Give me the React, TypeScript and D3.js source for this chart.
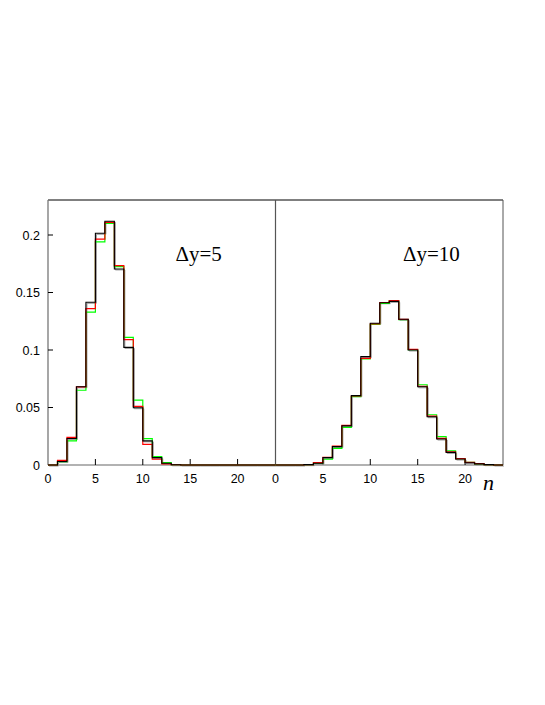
import React from "react";
import * as d3 from "d3";

// bin index n = 0..23, value = fraction of events in [n, n+1)
const leftBlack = [0, 0.003, 0.023, 0.068, 0.1415, 0.2015, 0.212, 0.1705, 0.1023, 0.0498, 0.021, 0.0064, 0.0015, 0.0002, 0, 0, 0, 0, 0, 0, 0, 0, 0, 0];
const leftRed = [0, 0.004, 0.024, 0.068, 0.136, 0.1965, 0.211, 0.1733, 0.109, 0.051, 0.018, 0.005, 0.001, 0.0002, 0, 0, 0, 0, 0, 0, 0, 0, 0, 0];
const leftGreen = [0, 0.003, 0.021, 0.065, 0.133, 0.194, 0.21, 0.1725, 0.111, 0.0565, 0.023, 0.0072, 0.002, 0.0004, 0, 0, 0, 0, 0, 0, 0, 0, 0, 0];

const rightBlack = [0, 0, 0, 0.0003, 0.0015, 0.0064, 0.016, 0.034, 0.0603, 0.0942, 0.1232, 0.1411, 0.1423, 0.1267, 0.1, 0.068, 0.042, 0.0226, 0.011, 0.0052, 0.002, 0.001, 0.0003, 0];
const rightRed = [0, 0, 0, 0.0003, 0.002, 0.0066, 0.0165, 0.0345, 0.06, 0.0928, 0.1228, 0.1413, 0.1429, 0.1267, 0.1005, 0.0685, 0.0425, 0.0232, 0.0115, 0.0055, 0.0022, 0.0012, 0.0003, 0];
const rightGreen = [0, 0, 0, 0.0002, 0.0017, 0.005, 0.0145, 0.0328, 0.0594, 0.0922, 0.1223, 0.1405, 0.1425, 0.1265, 0.1002, 0.0698, 0.0437, 0.0246, 0.0124, 0.0056, 0.0024, 0.001, 0.0004, 0];

const yTicks = [0, 0.05, 0.1, 0.15, 0.2];
const xTicks = [0, 5, 10, 15, 20];
const panelLabels = ["\u0394y=5", "\u0394y=10"];

const top = 200;
const bottom = 465;
const panelX = [48, 275.5];
const panelW = 227.5;

const yScale = d3.scaleLinear().domain([0, 0.2]).range([bottom, bottom - 230]);

const Panel = ({ x0, series, label, showY }) => {
  const xScale = d3.scaleLinear().domain([0, 24]).range([x0, x0 + panelW]);
  const line = d3
    .line<number>()
    .x((d, i) => xScale(i))
    .y((d) => yScale(d))
    .curve(d3.curveStepAfter);
  // repeat last value so the final bin gets its right edge
  const path = (vals) => line([...vals, vals[vals.length - 1]]);

  return (
    <g>
      {xTicks.map((t) => (
        <g key={t}>
          {t > 0 && (
            <line x1={xScale(t)} x2={xScale(t)} y1={bottom} y2={bottom - 6} stroke="#000" />
          )}
          <text
            x={xScale(t)}
            y={bottom + 18}
            textAnchor="middle"
            fontFamily="Liberation Sans, Arial, sans-serif"
            fontSize={12.5}
          >
            {t}
          </text>
        </g>
      ))}
      {showY &&
        yTicks.map((t) => (
          <g key={t}>
            {t > 0 && (
              <line x1={x0} x2={x0 + 5} y1={yScale(t)} y2={yScale(t)} stroke="#000" />
            )}
            <text
              x={x0 - 8}
              y={yScale(t) + 4.5}
              textAnchor="end"
              fontFamily="Liberation Sans, Arial, sans-serif"
              fontSize={12.5}
            >
              {t}
            </text>
          </g>
        ))}
      <path d={path(series[0])} fill="none" stroke="#999" strokeWidth={1} transform="translate(1,1)" />
      <path d={path(series[1])} fill="none" stroke="#00ff00" strokeWidth={1.2} />
      <path d={path(series[2])} fill="none" stroke="#ff0000" strokeWidth={1.2} />
      <path d={path(series[0])} fill="none" stroke="#000" strokeWidth={1.1} />
      <text
        x={x0 + panelW * 0.56}
        y={261}
        fontFamily="Liberation Serif, Times New Roman, serif"
        fontSize={21}
      >
        {label}
      </text>
    </g>
  );
};

export default function App() {
  return (
    <svg width={545} height={705} style={{ position: "absolute", left: 0, top: 0 }}>
      <rect width={545} height={705} fill="#fff" />
      {/* frame */}
      <line x1={panelX[0]} x2={panelX[1] + panelW} y1={top} y2={top} stroke="#000" />
      <line x1={panelX[0]} x2={panelX[0]} y1={top} y2={bottom} stroke="#777" strokeWidth={1.3} />
      <line x1={panelX[1]} x2={panelX[1]} y1={top} y2={bottom} stroke="#555" strokeWidth={1.2} />
      <line x1={panelX[1] + panelW} x2={panelX[1] + panelW} y1={top} y2={bottom} stroke="#555" />
      <line x1={panelX[0]} x2={panelX[1] + panelW} y1={bottom} y2={bottom} stroke="#666" strokeWidth={1.2} />
      <Panel x0={panelX[0]} series={[leftBlack, leftGreen, leftRed]} label={panelLabels[0]} showY={true} />
      <Panel x0={panelX[1]} series={[rightBlack, rightGreen, rightRed]} label={panelLabels[1]} showY={false} />
      <text
        x={483}
        y={490}
        fontFamily="Liberation Serif, Times New Roman, serif"
        fontStyle="italic"
        fontSize={22}
      >
        n
      </text>
    </svg>
  );
}
